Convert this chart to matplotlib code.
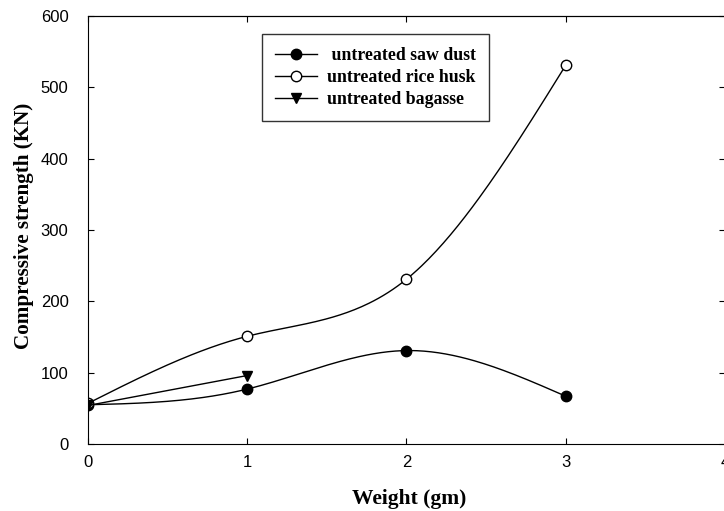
import numpy as np
import matplotlib
matplotlib.use('Agg')
import matplotlib.pyplot as plt
from matplotlib.lines import Line2D

weight = [0, 1, 2, 3]
saw_dust = [55, 77, 131, 67]
rice_husk = [57, 151, 231, 531]
bagasse_weight = [0, 1]
bagasse = [54, 96]
labels = ['untreated saw dust', 'untreated rice husk', 'untreated bagasse']


def natural_spline(x, y, n=200):
    # natural cubic spline, for a smooth line through the points
    x = np.asarray(x, float)
    y = np.asarray(y, float)
    k = len(x)
    h = np.diff(x)
    A = np.zeros((k, k))
    b = np.zeros(k)
    A[0, 0] = A[-1, -1] = 1
    for i in range(1, k - 1):
        A[i, i - 1] = h[i - 1]
        A[i, i] = 2 * (h[i - 1] + h[i])
        A[i, i + 1] = h[i]
        b[i] = 3 * ((y[i + 1] - y[i]) / h[i] - (y[i] - y[i - 1]) / h[i - 1])
    c = np.linalg.solve(A, b)
    xs = np.linspace(x[0], x[-1], n)
    idx = np.clip(np.searchsorted(x, xs) - 1, 0, k - 2)
    dx = xs - x[idx]
    bb = (y[idx + 1] - y[idx]) / h[idx] - h[idx] * (2 * c[idx] + c[idx + 1]) / 3
    dd = (c[idx + 1] - c[idx]) / (3 * h[idx])
    return xs, y[idx] + bb * dx + c[idx] * dx ** 2 + dd * dx ** 3


fig = plt.figure(figsize=(7.24, 5.11), dpi=100)
ax = fig.add_axes([0.1215, 0.1311, 0.8799, 0.8376])

xs, ys = natural_spline(weight, saw_dust)
ax.plot(xs, ys, color='black', lw=1)
ax.plot(weight, saw_dust, 'o', color='black', ms=7.5)

xs, ys = natural_spline(weight, rice_husk)
ax.plot(xs, ys, color='black', lw=1)
ax.plot(weight, rice_husk, 'o', mfc='white', mec='black', ms=7.5)

ax.plot(bagasse_weight, bagasse, color='black', lw=1)
ax.plot(bagasse_weight, bagasse, 'v', color='black', ms=7.5)

ax.set_xlim(0, 4)
ax.set_ylim(0, 600)
ax.set_xticks([0, 1, 2, 3, 4])
ax.set_yticks([0, 100, 200, 300, 400, 500, 600])
ax.tick_params(direction='in', length=4, labelsize=12)
ax.tick_params(axis='x', pad=8)
ax.tick_params(axis='y', pad=14)
for lab in ax.get_xticklabels() + ax.get_yticklabels():
    lab.set_fontfamily('Liberation Sans')

top = ax.secondary_xaxis('top')
top.set_xticks([0, 1, 2, 3, 4])
top.tick_params(direction='in', length=4, labeltop=False)
right = ax.secondary_yaxis('right')
right.set_yticks([0, 100, 200, 300, 400, 500, 600])
right.tick_params(direction='in', length=4, labelright=False)

ax.set_xlabel('Weight (gm)', fontfamily='Liberation Serif', fontweight='bold',
              fontsize=15.5, va='center')
ax.xaxis.set_label_coords(0.505, -0.128)
ax.set_ylabel('Compressive strength (KN)', fontfamily='Liberation Serif',
              fontweight='bold', fontsize=15.2, va='center')
ax.yaxis.set_label_coords(-0.1, 0.51)

handles = [Line2D([], [], color='black', lw=1, marker='o', ms=7.5),
           Line2D([], [], color='black', lw=1, marker='o', mfc='white', ms=7.5),
           Line2D([], [], color='black', lw=1, marker='v', ms=7.5)]
leg = ax.legend(handles, [' ' + labels[0]] + labels[1:], loc='upper left',
                bbox_to_anchor=(0.273, 0.958),
                frameon=True, fancybox=False, edgecolor='black',
                prop={'family': 'Liberation Serif', 'weight': 'bold', 'size': 12.8},
                handlelength=2.4, handletextpad=0.55, borderpad=0.72,
                labelspacing=0.28, borderaxespad=0)
leg.get_frame().set_linewidth(1)

fig.savefig('out.png', dpi=100)
